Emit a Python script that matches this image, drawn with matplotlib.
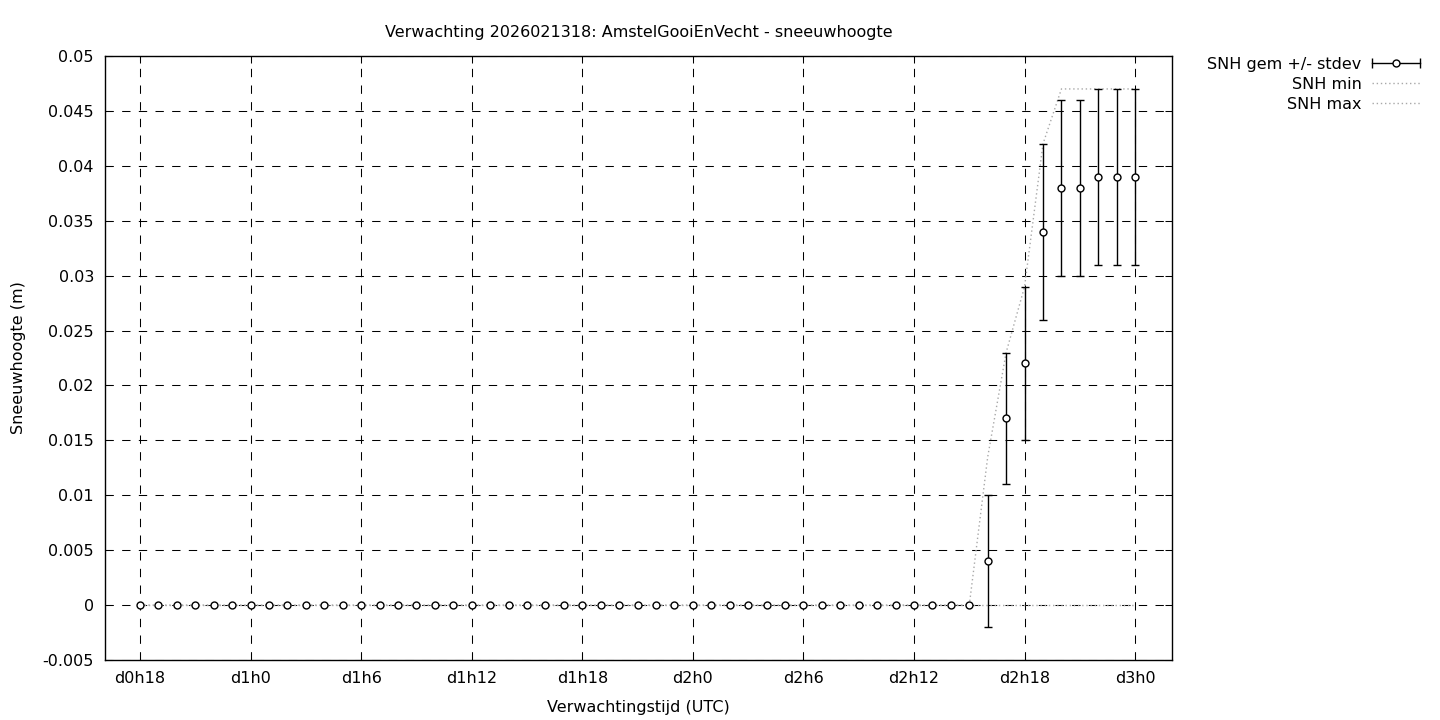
import numpy as np
import matplotlib
matplotlib.use('Agg')
import matplotlib.pyplot as plt
from matplotlib.lines import Line2D
from matplotlib.legend_handler import HandlerBase

# forecast hours since d0h0, hourly from d0h18 to d3h0
hours = np.arange(18, 73)
snh_mean = np.array([0.0] * 46 + [0.004, 0.017, 0.022, 0.034, 0.038, 0.038, 0.039, 0.039, 0.039])
snh_std = np.array([0.0] * 46 + [0.006, 0.006, 0.007, 0.008, 0.008, 0.008, 0.008, 0.008, 0.008])
snh_min = np.array([0.0] * 55)
snh_max = np.array([0.0] * 46 + [0.0135, 0.023, 0.029, 0.042, 0.047, 0.047, 0.047, 0.047, 0.047])

tick_hours = np.arange(18, 73, 6)
tick_labels = ['d%dh%d' % (h // 24, h % 24) for h in tick_hours]
y_ticks = np.round(np.arange(-0.005, 0.0501, 0.005), 3)


class ErrKeyHandler(HandlerBase):
    # gnuplot-like key: horizontal bar with end caps and a circle in the middle
    def create_artists(self, legend, orig_handle, xdescent, ydescent,
                       width, height, fontsize, trans):
        y = height / 2 - ydescent
        x0, x1 = -xdescent, width - xdescent
        bar = Line2D([x0, x1], [y, y], color='black', lw=1, transform=trans)
        caps = Line2D([x0, x1], [y, y], ls='none', marker='|', ms=7,
                      mew=1, color='black', transform=trans)
        pt = Line2D([(x0 + x1) / 2], [y], ls='none', marker='o', ms=5,
                    mfc='white', mec='black', mew=1, transform=trans)
        return [bar, caps, pt]


plt.rcParams['font.family'] = 'DejaVu Sans'
plt.rcParams['font.size'] = 11.5

fig = plt.figure(figsize=(14.4, 7.2), dpi=100)
ax = fig.add_axes([105 / 1440, 60 / 720, 1067 / 1440, 604 / 720])

gray = '#a8a8a8'
ax.plot(hours, snh_min, color=gray, lw=1, ls=(0, (1, 2)), zorder=2)
ax.plot(hours, snh_max, color=gray, lw=1, ls=(0, (1, 2)), zorder=2)

has_err = snh_std > 0
ax.errorbar(hours[has_err], snh_mean[has_err], yerr=snh_std[has_err], fmt='none',
            ecolor='black', elinewidth=1.0, capsize=3, capthick=1.0, zorder=3)
ax.plot(hours, snh_mean, ls='none', marker='o', ms=5, mfc='white', mec='black',
        mew=1, zorder=4)

ax.set_xlim(16.1, 74.0)
ax.set_ylim(-0.005, 0.05)
ax.set_xticks(tick_hours)
ax.set_xticklabels(tick_labels)
ax.set_yticks(y_ticks)
ax.set_yticklabels(['%g' % v for v in y_ticks])

ax.grid(True, color='black', lw=0.75, ls=(0, (8, 8)))
ax.set_axisbelow(True)
ax.tick_params(direction='in', top=True, right=True, length=5, width=0.75, pad=8)
for sp in ax.spines.values():
    sp.set_linewidth(1)

ax.set_title('Verwachting 2026021318: AmstelGooiEnVecht - sneeuwhoogte', fontsize=11.5, pad=14)
ax.set_xlabel('Verwachtingstijd (UTC)', labelpad=10)
ax.set_ylabel('Sneeuwhoogte (m)', labelpad=12)

h_err = Line2D([], [], color='black')
h_min = Line2D([], [], color=gray, lw=1, ls=(0, (1, 2)))
h_max = Line2D([], [], color=gray, lw=1, ls=(0, (1, 2)))
leg = fig.legend([h_err, h_min, h_max], ['SNH gem +/- stdev', 'SNH min', 'SNH max'],
                 loc='upper right', bbox_to_anchor=(1420 / 1440, 1 - 57 / 720),
                 frameon=False, markerfirst=False, borderpad=0, borderaxespad=0,
                 handlelength=3.0, handletextpad=0.65, labelspacing=0.3,
                 handler_map={h_err: ErrKeyHandler()})

fig.savefig('out.png', dpi=100)
